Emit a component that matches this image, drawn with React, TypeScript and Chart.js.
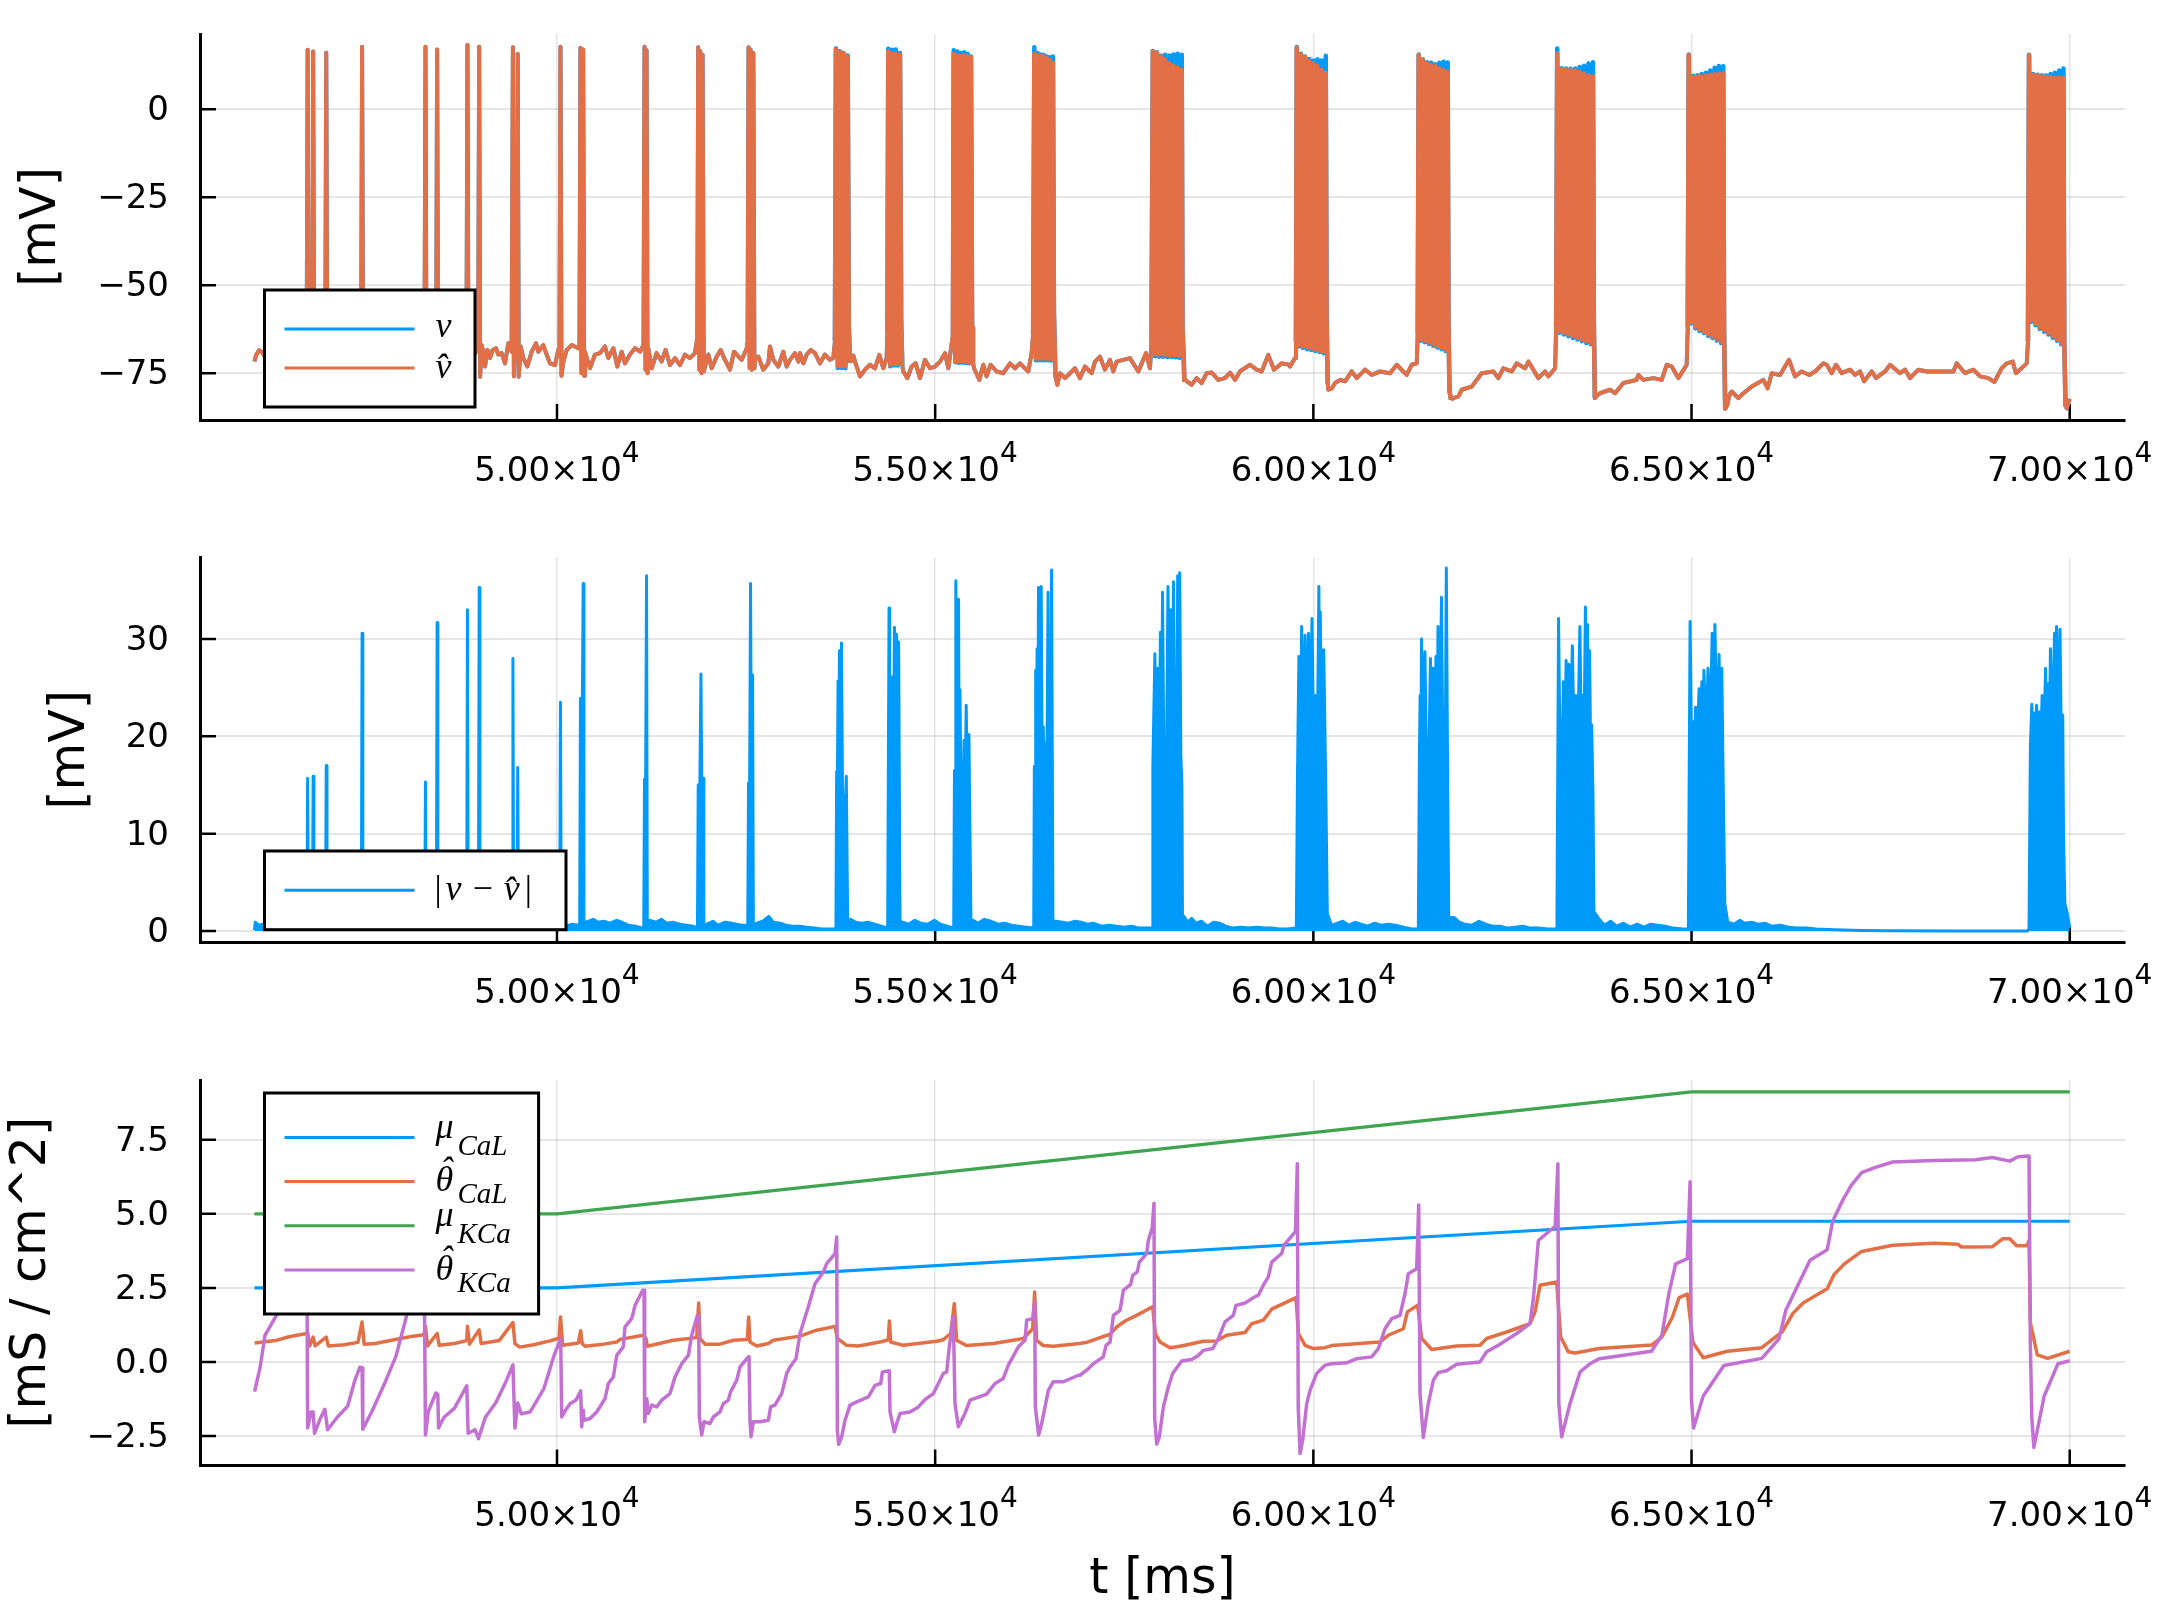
import { useEffect, useRef } from "react"
import { Chart, registerables } from "chart.js"

Chart.register(...registerables)

const BLUE = "#009AFA"
const ORANGE = "#E36F47"
const GREEN = "#3EA44E"
const PURPLE = "#C271D2"

const xMin = 45280
const xMax = 70731
const xTicks = [50000, 55000, 60000, 65000, 70000]
const xTickLabels = ["5.00", "5.50", "6.00", "6.50", "7.00"]

// top panel: stretches that v and v-hat share (rest, single spikes, short doublets)
const restT = [
  46000, 46020, 46060, 46100, 46140, 46690, 46703, 46716, 46763, 46776, 46789, 46936, 46949, 46962, 47410, 47423,
  47436, 48248, 48261, 48274, 48402, 48415, 48428, 48803, 48816, 48829, 48958, 48971, 48984, 49004, 49026, 49048,
  49079, 49114, 49149, 49193, 49224, 49268, 49312, 49356, 49400, 49417, 49430, 49445, 49468, 49481, 49494, 49520,
  49555, 49608, 49665, 49722, 49753, 49819, 49863, 49907, 49973, 50017, 50033, 50046, 50059, 50084, 50128, 50194,
  50282, 50297, 50310, 50323, 50333, 50346, 50359, 50370, 50436, 50502, 50568, 50634, 50678, 50745, 50798, 50855,
  50899, 50965, 51031, 51097, 51144, 51157, 51170, 51178, 51184, 51197, 51207, 51252, 51317, 51383, 51436, 51494,
  51560, 51626, 51692, 51758, 51824, 51855, 51867, 51882, 51895, 51910, 51925, 51940, 52001, 52045, 52111, 52164,
  52221, 52287, 52340, 52441, 52508, 52520, 52532, 52547, 52560, 52575, 52596, 52610, 52618, 52662, 52728, 52794,
  52816, 52860, 52926, 52992, 53036, 53080, 53146, 53191, 53213, 53257, 53301, 53354, 53411, 53477, 53543, 53609,
  53653, 53896, 53918, 53940, 54006, 54072, 54138, 54204, 54261, 54314, 54358, 54579, 54632, 54689, 54742, 54799,
  54865, 54931, 54997, 55064, 55130, 55174, 55513, 55584, 55636, 55680, 55733, 55813, 55901, 55989, 56055, 56121,
  56231, 56275, 56615, 56650, 56716, 56782, 56848, 56914, 56980, 57069, 57113, 57179, 57245, 57311, 57355, 57399,
  57487, 57575, 57686, 57787, 57840, 58303, 58391, 58457, 58523, 58589, 58655, 58743, 58832, 58898, 58964, 59030,
  59162, 59250, 59316, 59404, 59479, 59581, 59682, 59692, 59758, 60199, 60243, 60287, 60353, 60419, 60507, 60573,
  60684, 60772, 60882, 61014, 61102, 61234, 61300, 61367, 61851, 61918, 61962, 62094, 62226, 62380, 62446, 62512,
  62623, 62689, 62799, 62843, 62975, 63063, 63107, 63196, 63790, 63923, 63989, 64099, 64275, 64297, 64363, 64496,
  64606, 64672, 64738, 64826, 64936, 65531, 65619, 65686, 65796, 65950, 66007, 66060, 66170, 66289, 66368, 66457,
  66558, 66633, 66743, 66788, 66854, 66911, 66986, 67096, 67162, 67228, 67281, 67382, 67440, 67559, 67625, 67757,
  67823, 67889, 67999, 68110, 68242, 68352, 68462, 68506, 68617, 68727, 68815, 68925, 69004, 69101, 69167, 69246,
  69290, 69432, 69963, 69980, 70000,
]
const restV = [
  -71.7, -70, -68.5, -69, -70.5, -70, 16.9, -72, -70, 16.4, -72, -70, 16.1, -72, -70, 17.8,
  -72, -70, 17.8, -72, -70, 17, -72, -70, 18.3, -72, -68, 17.8, -76, -67, -68.9, -73.1,
  -68.4, -70.7, -68.4, -67.9, -69.7, -69.3, -72.2, -66.5, -68.9, 17.6, -75.9, -67.5, -68, 15.7, -76, -67.4,
  -70.7, -73.1, -68.9, -66.5, -68.9, -67, -69.7, -72.2, -72.7, -68.4, -68, 17.8, -75.7, -71.7, -68.4, -67,
  -67.9, -67.5, 17.5, -75, -70, 17, -75.7, -68.9, -73.6, -69.7, -69.3, -67.4, -70.7, -67.9, -73.1, -68.9,
  -72.2, -69.7, -67.9, -68.9, -67, 17.8, -74, -70, 16.8, -75, -67.9, -73.6, -69.3, -71.7, -68.4, -72.7,
  -70.7, -72.7, -69.7, -70.7, -69.3, -65, 17.6, -74, 16.5, -75, 15.5, -74.5, -69.7, -73.6, -70.3, -68.4,
  -71.2, -74, -68.9, -71.2, -68, -66, 17.6, -73.5, 17, -74, 16, -73.6, -71.2, -70.3, -74, -72.2,
  -67.4, -71.2, -73.1, -68.9, -73.1, -71.2, -69.3, -71.7, -69.3, -72.2, -69.7, -68.4, -69.3, -72.2, -69.7, -71.2,
  -70.7, -71, -70, -71.7, -75.9, -74, -72.6, -73.6, -69.8, -73.6, -70.7, -74.5, -76.4, -73.1, -72.2, -76.4,
  -71.2, -73.6, -73.1, -71.7, -69.3, -73.6, -73.6, -76.9, -72.6, -75.9, -72.6, -74.5, -75, -72.2, -73.6, -72.2,
  -74.5, -69.3, -78.3, -75, -76.4, -75, -73.6, -76.4, -73.1, -75, -71.7, -70.3, -74, -71.2, -74.5, -71.7,
  -71.2, -70.7, -74.5, -69.3, -73.6, -76.9, -78.3, -76.4, -77.8, -75, -74.8, -76.9, -76.4, -74.8, -76.9, -74.5,
  -72.6, -74, -74.5, -69.8, -74, -72.2, -72.6, -73.1, -70.7, -79.7, -79.3, -77.8, -76.9, -77.3, -74.5, -76.4,
  -74, -75.5, -74.5, -75, -72.6, -75.5, -72.6, -72.2, -82.1, -81.6, -79.7, -78.8, -75, -74.5, -76.4, -73.6,
  -74.5, -72.2, -73.6, -71.7, -76.4, -74.5, -75.9, -73.6, -80.7, -79.7, -80.7, -77.8, -76.9, -75.5, -76.9, -76.4,
  -76.9, -72.6, -73.1, -76.4, -72.6, -80.2, -82.1, -80.7, -78.8, -76.9, -79.3, -75, -75.5, -71.2, -75.9, -74.5,
  -75.5, -74.5, -72.2, -72.6, -75, -72.6, -75, -74, -75.5, -74.5, -77.3, -74.5, -76.4, -74.5, -72.6, -75,
  -74, -76.4, -74, -74.5, -74.5, -74.5, -74.5, -72.2, -75, -74, -75.9, -76.4, -77.5, -73.6, -72.2, -71.7,
  -75, -72.2, -85, -83.5, -82.3,
]

// top panel: the long bursts, where the two traces part at the tips
const burstT = [
  53675, 53688, 53713, 53738, 53763, 53788, 53813, 53843, 53858, 53875,
  54368, 54380, 54405, 54430, 54455, 54480, 54505, 54535, 54550, 54565,
  55235, 55245, 55268, 55291, 55314, 55337, 55360, 55383, 55406, 55429, 55452, 55473, 55488, 55500,
  56295, 56311, 56331, 56352, 56372, 56393, 56413, 56434, 56454, 56475, 56495, 56516, 56536, 56557, 56570, 56590,
  57860, 57878, 57905, 57932, 57960, 57987, 58014, 58041, 58069, 58096, 58123, 58150, 58178, 58205, 58232, 58260, 58270, 58285, 58295,
  59770, 59781, 59808, 59836, 59863, 59890, 59918, 59945, 59972, 60000, 60027, 60054, 60082, 60109, 60136, 60164, 60175, 60190,
  61380, 61393, 61420, 61448, 61475, 61503, 61530, 61557, 61585, 61612, 61639, 61667, 61694, 61721, 61749, 61776, 61786, 61800, 61820,
  63210, 63224, 63254, 63283, 63313, 63342, 63372, 63401, 63431, 63461, 63490, 63520, 63549, 63579, 63608, 63638, 63667, 63697, 63708, 63722, 63745,
  64950, 64963, 64992, 65020, 65049, 65077, 65106, 65134, 65163, 65191, 65220, 65248, 65277, 65305, 65334, 65362, 65391, 65419, 65430, 65445, 65470, 65500,
  69448, 69462, 69490, 69519, 69547, 69576, 69604, 69633, 69661, 69689, 69718, 69746, 69775, 69803, 69831, 69860, 69888, 69917, 69928, 69945,
]
const burstHat = [
  -66, 16.9, -73, 16.2, -73, 15.8, -73, 15, -62, -72,
  -64, 16.5, -72.6, 15.8, -72.4, 15.8, -72.4, 15.6, -60, -73,
  -64, 15.8, -71.5, 15.3, -71.6, 15.2, -71.7, 15.3, -71.8, 15, -72, 14.8, -62, -72,
  -64, 15.8, -70.8, 15.4, -70.8, 15.2, -70.8, 15, -70.8, 14.5, -70.8, 14, -70.9, 13.2, -58, -76,
  -66, 16.4, -69.6, 16, -69.7, 15, -69.7, 14.2, -69.8, 13.1, -69.8, 12.4, -69.9, 11.8, -70, 11.2, -62, -70, -77.5,
  -66, 17.5, -67, 15.6, -67.4, 14.8, -67.8, 13.8, -68, 13, -68.3, 12.4, -68.6, 11.2, -68.9, 10.4, -60, -78,
  -64, 15.4, -65.4, 14, -65.8, 13, -66.3, 12.6, -66.8, 12.2, -67.3, 11.6, -67.8, 11.1, -68.3, 10.7, -60, -80, -82.5,
  -62, 15.8, -63, 11.5, -63.5, 11.4, -64, 11.2, -64.5, 11, -65, 10.6, -65.5, 10.1, -66, 9.6, -66.5, 9.3, -60, -82, -81.5,
  -62, 15.4, -60.5, 9.2, -61.8, 9.3, -62.6, 9.4, -63.2, 9.6, -64, 9.8, -64.6, 10, -65.3, 10.1, -66, 10.2, -62, -85, -84, -81,
  -66, 15.4, -60, 9.8, -61, 9.6, -62, 9.4, -62.8, 9.2, -63.6, 9.2, -64.5, 9, -65.4, 8.9, -66.4, 8.8, -66, -84.5,
]
const burstV = [
  -66, 17.3, -73.5, 16.5, -73.5, 16, -73.6, 15.3, -62, -72,
  -64, 17.2, -73, 16.9, -72.8, 17, -72.8, 16, -60, -73,
  -64, 16.8, -71.9, 16.4, -72, 16, -72, 16.2, -72.1, 15.8, -72.2, 15, -62, -72,
  -64, 17.6, -71.3, 16, -71.3, 15.6, -71.3, 15.4, -71.3, 15, -71.3, 14.8, -71.4, 15, -58, -76,
  -66, 16.6, -70.2, 16.2, -70.3, 15.2, -70.3, 15.5, -70.4, 15.3, -70.4, 15.6, -70.5, 15.8, -70.6, 15.5, -62, -70, -77.5,
  -66, 17.7, -67.4, 15.8, -67.8, 15, -68.2, 14.3, -68.4, 13.9, -68.7, 14.2, -69, 13.9, -69.3, 15.2, -60, -78,
  -64, 15.6, -65.8, 14.2, -66.2, 13.4, -66.7, 13.2, -67.2, 12.8, -67.7, 13.2, -68.2, 13.5, -68.7, 13.3, -60, -80, -82.5,
  -62, 17.3, -63.5, 11.7, -64, 11.6, -64.5, 11.5, -65, 11.6, -65.4, 12, -65.9, 12.4, -66.4, 13, -66.8, 13.4, -60, -82, -81.5,
  -62, 15.6, -60.9, 9.5, -62.2, 9.7, -63, 10, -63.6, 10.4, -64.4, 11, -65, 11.8, -65.7, 12.3, -66.4, 12.2, -62, -85, -84, -81,
  -66, 15.5, -60.4, 10, -61.4, 9.8, -62.4, 9.7, -63.2, 9.6, -64, 10, -64.9, 10.4, -65.8, 11, -66.8, 11.6, -66, -84.5,
]

// middle panel: |v - v-hat|
const errT = [
  46000, 46010, 46060, 46110, 46693, 46703, 46713, 46766, 46776, 46786, 46939, 46949, 46959, 47413, 47423, 47433,
  48251, 48261, 48271, 48405, 48415, 48425, 48806, 48816, 48826, 48961, 48971, 48981, 49407, 49417, 49427, 49471,
  49481, 49491, 50036, 50046, 50056, 50120, 50200, 50290, 50300, 50310, 50328, 50346, 50356, 50380, 50480, 50540,
  50620, 50700, 50790, 50860, 50940, 51040, 51130, 51147, 51157, 51170, 51184, 51194, 51230, 51310, 51380, 51450,
  51530, 51620, 51710, 51800, 51857, 51867, 51885, 51903, 51917, 51931, 51941, 51980, 52060, 52130, 52220, 52310,
  52440, 52500, 52522, 52532, 52545, 52559, 52572, 52586, 52596, 52640, 52720, 52800, 52860, 52950, 53030, 53110,
  53210, 53300, 53400, 53500, 53600, 53688, 53697, 53706, 53716, 53725, 53734, 53747, 53761, 53775, 53788, 53806,
  53825, 53843, 53880, 53950, 54030, 54110, 54200, 54290, 54372, 54390, 54399, 54408, 54421, 54435, 54448, 54462,
  54476, 54490, 54503, 54517, 54535, 54570, 54650, 54730, 54810, 54900, 54990, 55070, 55160, 55245, 55255, 55264,
  55273, 55291, 55309, 55318, 55328, 55341, 55355, 55368, 55382, 55396, 55410, 55428, 55446, 55473, 55500, 55570,
  55650, 55740, 55830, 55920, 56010, 56100, 56200, 56303, 56311, 56320, 56329, 56338, 56347, 56356, 56366, 56384,
  56402, 56416, 56429, 56443, 56457, 56475, 56493, 56506, 56520, 56530, 56539, 56557, 56600, 56680, 56760, 56850,
  56930, 57010, 57090, 57200, 57300, 57400, 57500, 57600, 57700, 57800, 57870, 57878, 57905, 57923, 57942, 57960,
  57978, 57992, 58006, 58024, 58042, 58060, 58078, 58096, 58115, 58133, 58151, 58170, 58188, 58197, 58206, 58220,
  58233, 58248, 58262, 58270, 58290, 58340, 58390, 58450, 58520, 58600, 58680, 58760, 58840, 58940, 59040, 59140,
  59250, 59350, 59450, 59550, 59650, 59775, 59790, 59809, 59827, 59845, 59868, 59891, 59913, 59936, 59959, 59982,
  60005, 60027, 60050, 60073, 60082, 60091, 60114, 60137, 60164, 60185, 60240, 60320, 60390, 60470, 60550, 60630,
  60720, 60810, 60900, 60990, 61090, 61190, 61300, 61388, 61402, 61412, 61421, 61430, 61452, 61475, 61493, 61512,
  61530, 61548, 61567, 61585, 61603, 61621, 61635, 61648, 61671, 61694, 61712, 61730, 61744, 61758, 61776, 61790,
  61860, 61930, 62000, 62100, 62190, 62280, 62370, 62470, 62570, 62670, 62770, 62870, 62970, 63100, 63220, 63232,
  63242, 63260, 63278, 63292, 63306, 63324, 63342, 63360, 63379, 63401, 63424, 63447, 63470, 63497, 63524, 63542,
  63561, 63579, 63597, 63611, 63625, 63638, 63652, 63665, 63679, 63697, 63710, 63780, 63850, 63930, 64010, 64100,
  64190, 64280, 64370, 64460, 64550, 64650, 64760, 64880, 64958, 64970, 64981, 65000, 65018, 65036, 65054, 65077,
  65100, 65118, 65136, 65150, 65164, 65191, 65218, 65245, 65273, 65291, 65309, 65336, 65364, 65382, 65400, 65419,
  65440, 65480, 65560, 65640, 65700, 65790, 65880, 65970, 66060, 66170, 66290, 66400, 66520, 66650, 66800, 67000,
  67250, 67600, 68500, 69440, 69462, 69480, 69499, 69512, 69526, 69544, 69562, 69580, 69599, 69617, 69635, 69658,
  69681, 69699, 69717, 69731, 69745, 69772, 69799, 69812, 69826, 69849, 69872, 69890, 69908, 69918, 69936, 69963,
  70000,
]
const err = [
  0.1, 0.9, 0.6, 0.7, 0.4, 15.7, 0.4, 0.4, 15.9, 0.4, 0.4, 17, 0.4, 0.4, 30.6, 0.4,
  0.4, 15.3, 0.4, 0.4, 31.7, 0.4, 0.4, 33, 0.4, 0.4, 35.3, 0.4, 0.4, 28, 0.4, 0.4,
  16.8, 0.4, 0.4, 23.5, 0.4, 0.5, 0.7, 0.6, 0.5, 23.9, 15, 35.7, 0.7, 0.9, 1.2, 0.9,
  1, 0.8, 1.1, 0.9, 0.6, 0.5, 0.3, 0.3, 15.6, 12, 36.5, 0.6, 1.1, 0.9, 1.2, 0.8,
  0.9, 0.7, 0.6, 0.5, 0.3, 15, 12, 26.4, 12, 15.7, 0.5, 0.7, 1, 0.6, 0.9, 0.8,
  0.6, 0.6, 0.4, 15.2, 12, 35.7, 12, 26.3, 0.5, 0.8, 1, 1.5, 0.9, 0.8, 0.6, 0.5,
  0.5, 0.4, 0.3, 0.2, 0.2, 0.2, 16.4, 14, 25.7, 15, 28.8, 15, 29.6, 14, 13.9, 12,
  15.9, 1, 1.2, 0.9, 0.8, 0.9, 0.7, 0.5, 0.3, 33.2, 17, 19, 17, 26.1, 17, 31.2,
  16, 30.5, 15, 29.7, 1, 0.9, 0.7, 1.1, 0.8, 0.7, 1.1, 0.7, 0.5, 0.3, 16.5, 14,
  36, 15, 34.1, 16, 24.8, 14, 13.3, 13, 19.6, 15, 23.2, 14, 20.2, 1, 1.1, 0.8,
  1.2, 1, 0.7, 0.8, 0.6, 0.5, 0.4, 0.3, 16.9, 15, 26.8, 16, 29, 16, 35.3, 17,
  35.4, 15, 21, 15, 19.3, 15, 34.8, 15, 16.9, 14, 37.1, 1, 1, 0.9, 0.8, 1,
  0.9, 0.7, 0.8, 0.5, 0.6, 0.5, 0.4, 0.5, 0.3, 0.3, 0.3, 17, 28.5, 17, 27, 18,
  30.7, 19, 34.8, 17, 17.6, 19, 35.4, 20, 33, 20, 35.9, 18, 23.6, 20, 36.5, 22,
  36.8, 18, 15, 1, 1.5, 0.9, 1.3, 0.8, 1, 0.5, 0.9, 0.8, 0.5, 0.3, 0.4, 0.3,
  0.4, 0.3, 0.3, 0.2, 0.2, 0.3, 16, 28.2, 17, 31.3, 18, 30.4, 18, 30.6, 19, 32.1,
  18, 24.2, 17, 35.4, 19, 32.8, 18, 28.9, 15, 1.8, 0.6, 0.8, 1, 0.6, 0.9, 0.7,
  0.5, 0.8, 0.6, 0.7, 0.6, 0.4, 0.2, 0.2, 18, 24.2, 18, 30, 19, 28.7, 19, 19.3,
  19, 28, 19, 27, 19, 28.2, 19, 31.3, 19, 34.3, 18, 19.3, 18, 37.3, 15, 1.4,
  1.4, 0.9, 0.7, 0.6, 1, 0.7, 0.5, 0.5, 0.3, 0.4, 0.5, 0.3, 0.3, 0.2, 0.2, 18,
  32.1, 19, 21.7, 19, 25.6, 19, 27.8, 20, 27.4, 20, 29.3, 20, 24.2, 20, 31.3, 20,
  24.2, 20, 33.3, 20, 31.5, 20, 28.8, 19, 21.2, 14, 2, 1.2, 0.6, 1, 0.5, 0.8,
  0.4, 0.7, 0.4, 0.7, 0.6, 0.5, 0.3, 0.2, 0.2, 17, 31.8, 19, 21.5, 19, 23, 20,
  24.9, 20, 25.6, 20, 26.8, 20, 27, 20, 30.6, 20, 31.5, 20, 28.4, 20, 27, 15,
  2.8, 0.9, 0.7, 1.1, 0.8, 0.9, 0.7, 0.8, 0.5, 0.6, 0.4, 0.3, 0.3, 0.2, 0.15, 0.1,
  0.05, 0.02, 0, 0, 0.2, 19, 23.3, 19, 22.4, 19, 23.2, 19, 22.5, 19, 24.2, 20,
  27, 20, 25.4, 20, 29, 20, 30.6, 20, 31.3, 20, 31, 19, 22.2, 10, 2.8, 2,
  0.3,
]

// bottom panel
const muT = [46000, 50000, 65000, 70000]
const muCaL = [2.5, 2.5, 4.75, 4.75]
const muKCa = [5, 5, 9.12, 9.12]

const thetaCaLT = [
  46002, 46275, 46457, 46694, 46703, 46731, 46776, 46803, 46949, 46976, 47186, 47368, 47423, 47450, 47596, 47914,
  48097, 48242, 48261, 48288, 48415, 48443, 48643, 48807, 48816, 48843, 48971, 48998, 49235, 49417, 49444, 49508,
  49690, 49918, 50028, 50046, 50075, 50282, 50313, 50332, 50370, 50613, 50789, 50833, 51142, 51177, 51195, 51538,
  51847, 51873, 51891, 51957, 52155, 52332, 52517, 52534, 52552, 52640, 52794, 52860, 53213, 53433, 53676, 53707,
  53830, 53984, 54271, 54381, 54394, 54412, 54579, 55020, 55108, 55205, 55253, 55284, 55416, 55769, 56166, 56289,
  56315, 56342, 56430, 56562, 56906, 57003, 57201, 57312, 57400, 57510, 57664, 57876, 57911, 57973, 58105, 58237,
  58546, 58722, 58854, 59096, 59184, 59339, 59449, 59603, 59771, 59802, 59890, 60000, 60154, 60242, 60881, 60991,
  61190, 61243, 61379, 61432, 61565, 61895, 62203, 62291, 62556, 62864, 62931, 62997, 63217, 63270, 63371, 63460,
  63781, 64471, 64608, 64745, 64836, 64945, 65018, 65155, 65473, 65929, 66202, 66338, 66475, 66794, 66885, 67021,
  67249, 67659, 68205, 68524, 68570, 68979, 69116, 69207, 69298, 69435, 69462, 69480, 69571, 69708, 70000,
]
const thetaCaL = [
  0.64, 0.72, 0.85, 0.96, 1, 0.54, 0.84, 0.54, 0.84, 0.54, 0.58, 0.66, 1.35, 0.6, 0.62, 0.78,
  0.87, 0.92, 1.2, 0.54, 0.96, 0.56, 0.62, 0.72, 1.2, 0.6, 1.08, 0.62, 0.72, 1.33, 0.62, 0.5,
  0.58, 0.72, 0.8, 1.52, 0.56, 0.64, 1.05, 0.62, 0.53, 0.6, 0.67, 0.76, 0.9, 0.79, 0.53, 0.73,
  0.82, 1.99, 0.79, 0.6, 0.6, 0.73, 0.76, 1.52, 0.67, 0.54, 0.62, 0.73, 0.87, 1.07, 1.2, 0.79,
  0.56, 0.54, 0.67, 0.75, 1.38, 0.67, 0.56, 0.7, 0.75, 0.96, 1.97, 0.73, 0.55, 0.62, 0.79, 1.12,
  2.36, 0.73, 0.55, 0.53, 0.62, 0.66, 0.84, 0.93, 1.18, 1.38, 1.57, 1.86, 0.96, 0.67, 0.48, 0.53,
  0.7, 0.71, 0.9, 0.99, 1.29, 1.41, 1.78, 1.97, 2.17, 0.96, 0.56, 0.45, 0.48, 0.55, 0.67, 0.9,
  1.12, 1.69, 1.91, 0.79, 0.42, 0.54, 0.56, 0.79, 1.01, 1.29, 1.69, 2.59, 2.7, 0.84, 0.34, 0.3,
  0.45, 0.57, 0.84, 1.5, 2.17, 2.29, 0.66, 0.14, 0.36, 0.48, 1.02, 1.63, 1.99, 2.47, 2.95, 3.31,
  3.73, 3.94, 4.01, 3.97, 3.88, 3.89, 4.16, 4.16, 3.92, 3.92, 4.1, 1.32, 0.24, 0.12, 0.36,
]

const thetaKCaT = [
  46002, 46075, 46139, 46275, 46503, 46694, 46703, 46749, 46776, 46794, 46867, 46931, 46967, 47095, 47232, 47323,
  47395, 47423, 47432, 47550, 47732, 47869, 48006, 48097, 48242, 48261, 48297, 48397, 48424, 48434, 48506, 48643,
  48807, 48825, 48916, 48962, 49053, 49189, 49326, 49417, 49444, 49481, 49526, 49645, 49827, 49964, 50049, 50062,
  50128, 50172, 50252, 50313, 50326, 50348, 50357, 50437, 50525, 50635, 50679, 50745, 50789, 50877, 50899, 50988,
  51032, 51133, 51151, 51159, 51186, 51208, 51252, 51318, 51384, 51494, 51560, 51649, 51737, 51781, 51856, 51873,
  51882, 51913, 51944, 52023, 52067, 52155, 52199, 52266, 52296, 52376, 52420, 52530, 52539, 52552, 52565, 52596,
  52684, 52794, 52825, 52882, 52971, 53037, 53081, 53160, 53213, 53323, 53411, 53522, 53566, 53676, 53698, 53707,
  53724, 53764, 53808, 53874, 53962, 54116, 54205, 54280, 54302, 54394, 54403, 54460, 54491, 54535, 54667, 54778,
  54866, 54976, 55108, 55152, 55187, 55240, 55262, 55306, 55394, 55461, 55681, 55791, 55901, 55967, 56100, 56188,
  56210, 56289, 56316, 56324, 56368, 56408, 56496, 56562, 56695, 56893, 56915, 57003, 57091, 57223, 57259, 57312,
  57356, 57444, 57488, 57585, 57611, 57673, 57699, 57796, 57818, 57869, 57893, 57902, 57929, 57964, 58017, 58083,
  58140, 58259, 58391, 58479, 58546, 58669, 58744, 58832, 58942, 58977, 59096, 59207, 59273, 59339, 59405, 59449,
  59581, 59612, 59763, 59788, 59800, 59824, 59859, 59912, 59956, 60044, 60154, 60242, 60441, 60573, 60771, 60859,
  60947, 61036, 61146, 61212, 61256, 61366, 61393, 61410, 61454, 61520, 61586, 61653, 61763, 61895, 62203, 62291,
  62446, 62688, 62864, 62909, 62953, 62975, 63197, 63233, 63245, 63283, 63393, 63526, 63658, 63781, 64471, 64608,
  64699, 64790, 64945, 64981, 64999, 65027, 65155, 65428, 65929, 66156, 66247, 66293, 66429, 66566, 66794, 66867,
  67003, 67112, 67249, 67431, 67659, 68205, 68752, 68979, 69207, 69316, 69462, 69480, 69499, 69526, 69663, 69845,
  70000,
]
const thetaKCa = [
  -1, -0.18, 0.9, 1.5, 2.6, 3.2, -2.23, -1.69, -1.69, -2.41, -1.93, -1.6, -2.29, -1.87, -1.5, -0.66,
  -0.18, -0.2, -2.27, -1.69, -0.66, 0.18, 1.5, 2.8, 4, -2.47, -1.69, -1.05, -1.1, -2.23, -1.87, -1.57,
  -0.81, -2.41, -2.29, -2.59, -1.87, -1.39, -0.66, -0.1, -2.23, -1.39, -1.75, -1.69, -0.9, 0.24, 0.79, -1.86,
  -1.57, -1.41, -1.29, -0.98, -2.19, -1.63, -1.97, -1.91, -1.69, -1.24, -0.73, -0.51, 0.22, 0.51, 1.18, 1.46,
  1.91, 2.42, 2.42, -2.02, -1.24, -1.74, -1.46, -1.52, -1.29, -1.07, -0.51, -0.06, 0.22, 0.9, 1.57, 1.57,
  -1.86, -2.47, -2.02, -2.08, -1.86, -1.69, -1.41, -1.29, -1.01, -0.62, -0.17, 0.17, 0.17, -1.97, -2.53, -2.02,
  -2.02, -1.97, -1.52, -1.46, -1.07, -0.39, -0.17, 0.11, 0.96, 1.86, 2.64, 3.04, 3.32, 3.66, 4.22, -2.31,
  -2.78, -2.53, -1.97, -1.46, -1.35, -1.18, -0.79, -0.73, -0.34, -0.3, -1.69, -2.36, -2.08, -1.74, -1.69, -1.52,
  -1.27, -1.07, -0.39, -0.34, 0.51, 1.52, -1.41, -2.19, -1.74, -1.29, -1.09, -0.73, -0.56, -0.11, 0.51, 0.73,
  1.41, 1.46, 2.02, -1.52, -2.47, -2.08, -0.96, -0.67, -0.67, -0.45, -0.45, -0.28, -0.06, 0.17, 0.56, 0.67,
  1.57, 1.74, 2.42, 2.62, 2.92, 3.04, 3.37, 3.66, 4.1, 4.52, 5.36, -1.91, -2.78, -2.53, -1.52, -0.84,
  -0.39, 0.03, 0.08, 0.22, 0.39, 0.45, 0.79, 1.35, 1.57, 1.91, 1.99, 2.17, 2.25, 2.59, 2.87, 3.37,
  3.66, 3.94, 4.4, 6.69, -1.52, -3.09, -2.64, -1.41, -0.96, -0.39, -0.11, -0.06, -0.03, 0.11, 0.17, 0.45,
  1.12, 1.46, 1.57, 2.31, 2.98, 3.15, 5.3, -1.07, -2.55, -1.41, -0.62, -0.36, -0.3, -0.08, 0, 0.34,
  0.56, 0.96, 1.29, 2.14, 3.43, 4.1, 4.58, 6.69, -1.4, -2.53, -1.41, -0.34, -0.06, 0.11, 0.36, 0.9,
  2.29, 3.31, 3.49, 6.08, -1.27, -2.23, -1.15, -0.12, 0.12, 0.78, 1.75, 1.99, 2.71, 3.43, 3.79, 4.76,
  5.48, 5.96, 6.39, 6.57, 6.75, 6.8, 6.83, 6.9, 6.78, 6.93, 6.95, 0.54, -1.88, -2.89, -1.15, -0.06,
  0.04,
]

const pts = (xs: number[], ys: number[]) => xs.map((x, i) => ({ x, y: ys[i] }))
const merged = (a: { x: number; y: number }[], b: { x: number; y: number }[]) => [...a, ...b].sort((p, q) => p.x - q.x)

const FONT = "'DejaVu Sans'"
const MATH = "'Liberation Serif'"

interface LegendRow {
  color: string
  text: string
  hatDy?: number
  sub?: string
  lineY: number
  textDx?: number
  textDy: number
  subDy?: number
}

interface LegendBox {
  left: number
  right: number
  top: number
  bottom: number
  rows: LegendRow[]
}

// inward tick marks, x labels with a raised exponent and the boxed legend (y values are canvas pixels)
function decor(legend: LegendBox) {
  return {
    id: "decor",
    beforeDatasetsDraw(chart: Chart) {
      const { ctx } = chart
      const x = chart.scales.x
      const y = chart.scales.y
      ctx.save()
      ctx.strokeStyle = "#000"
      ctx.lineWidth = 2.5
      ctx.beginPath()
      x.ticks.forEach((t) => {
        const px = x.getPixelForValue(t.value)
        ctx.moveTo(px, x.top)
        ctx.lineTo(px, x.top - 16)
      })
      y.ticks.forEach((t) => {
        const py = y.getPixelForValue(t.value)
        ctx.moveTo(y.right, py)
        ctx.lineTo(y.right + 16, py)
      })
      ctx.stroke()

      ctx.fillStyle = "#000"
      ctx.textBaseline = "alphabetic"
      ctx.textAlign = "left"
      xTicks.forEach((value, i) => {
        const text = xTickLabels[i] + "×10"
        ctx.font = `34px ${FONT}`
        const w = ctx.measureText(text).width
        ctx.font = `28px ${FONT}`
        const e = ctx.measureText("4").width
        const left = x.getPixelForValue(value) - (w + e) / 2
        ctx.font = `34px ${FONT}`
        ctx.fillText(text, left, x.top + 61)
        ctx.font = `28px ${FONT}`
        ctx.fillText("4", left + w, x.top + 42)
      })
      ctx.restore()
    },
    afterDatasetsDraw(chart: Chart) {
      const { ctx } = chart
      ctx.save()
      ctx.fillStyle = "#fff"
      ctx.strokeStyle = "#000"
      ctx.lineWidth = 3
      const w = legend.right - legend.left
      const h = legend.bottom - legend.top
      ctx.fillRect(legend.left, legend.top, w, h)
      ctx.strokeRect(legend.left, legend.top, w, h)
      legend.rows.forEach((row) => {
        ctx.strokeStyle = row.color
        ctx.lineWidth = 3
        ctx.beginPath()
        ctx.moveTo(legend.left + 20, row.lineY)
        ctx.lineTo(legend.left + 150, row.lineY)
        ctx.stroke()
        ctx.fillStyle = "#000"
        ctx.textAlign = "left"
        ctx.textBaseline = "alphabetic"
        ctx.font = `italic 36px ${MATH}`
        const tx = legend.left + 171 + (row.textDx ?? 0)
        const ty = row.lineY + row.textDy
        ctx.fillText(row.text, tx, ty)
        if (row.hatDy !== undefined) {
          const base = ctx.measureText(row.text).width
          const hat = ctx.measureText("ˆ").width
          ctx.fillText("ˆ", tx + (base - hat) / 2 + 2, ty - row.hatDy)
        }
        if (row.sub) {
          ctx.font = `italic 29px ${MATH}`
          ctx.fillText(row.sub, legend.left + 193, row.lineY + (row.subDy ?? 0))
        }
      })
      ctx.restore()
    },
  }
}

function xAxis(height: number, title?: string) {
  return {
    type: "linear" as const,
    min: xMin,
    max: xMax,
    afterBuildTicks: (axis: any) => {
      axis.ticks = xTicks.map((value) => ({ value }))
    },
    afterFit: (axis: any) => {
      axis.height = height
    },
    ticks: { display: false },
    grid: { color: "rgba(0,0,0,0.1)", lineWidth: 1.5, drawTicks: false },
    border: { display: true, color: "#000", width: 3 },
    title: {
      display: !!title,
      text: title,
      color: "#000",
      font: { family: "DejaVu Sans", size: 49 },
      padding: { top: 0, bottom: 10 },
    },
  }
}

function yAxis(min: number, max: number, values: number[], labels: string[], title: string, titleInset: number) {
  return {
    type: "linear" as const,
    min,
    max,
    afterBuildTicks: (axis: any) => {
      axis.ticks = values.map((value) => ({ value }))
    },
    afterFit: (axis: any) => {
      axis.width = 200
      // keep half-label overflow from pushing the plot area down
      axis.paddingTop = 0
      axis.paddingBottom = 0
    },
    ticks: {
      color: "#000",
      padding: 31,
      labelOffset: 2,
      autoSkip: false,
      maxRotation: 0,
      font: { family: "DejaVu Sans", size: 34 },
      callback: (_v: any, i: number) => labels[i],
    },
    grid: { color: "rgba(0,0,0,0.1)", lineWidth: 2, drawTicks: false },
    border: { display: true, color: "#000", width: 3 },
    title: {
      display: true,
      text: title,
      color: "#000",
      font: { family: "DejaVu Sans", size: 49 },
      padding: { top: titleInset, bottom: 0 },
    },
  }
}

function line(label: string, color: string, data: { x: number; y: number }[], extra = {}) {
  return {
    label,
    data,
    borderColor: color,
    backgroundColor: color,
    borderWidth: 3,
    pointRadius: 0,
    tension: 0,
    borderJoinStyle: "round" as const,
    ...extra,
  }
}

function Panel({ top, height, plotTop, axisHeight, datasets, y, title, legend }: any) {
  const chartRef = useRef<HTMLCanvasElement>(null)

  useEffect(() => {
    if (!chartRef.current) return
    const chart = new Chart(chartRef.current, {
      type: "line",
      // later series sit on top, as in the reference
      data: { datasets: datasets.map((d: any, i: number) => ({ ...d, order: datasets.length - i })) },
      options: {
        responsive: false,
        animation: false,
        devicePixelRatio: 1,
        layout: { padding: { left: 0, top: plotTop, right: 35, bottom: 0 } },
        scales: { x: xAxis(axisHeight, title), y },
        plugins: { legend: { display: false }, title: { display: false }, tooltip: { enabled: false } },
      },
      plugins: [decor(legend)],
    } as any)
    return () => chart.destroy()
  }, [])

  return (
    <canvas
      ref={chartRef}
      width={2160}
      height={height}
      style={{ position: "absolute", left: 0, top, display: "block" }}
    />
  )
}

const vHatPoints = merged(pts(restT, restV), pts(burstT, burstHat))
const vPoints = merged(pts(restT, restV), pts(burstT, burstV))

// strokes inside a long burst are widened so the spike train reads as a solid band
const burstTimes = new Set(burstT)
const voltageStyle = {
  borderWidth: 4,
  segment: {
    borderWidth: (c: any) => (burstTimes.has(c.p0.parsed.x) && burstTimes.has(c.p1.parsed.x) ? 4.5 : 4),
  },
}

export default function App() {
  return (
    <div style={{ position: "absolute", left: 0, top: 0, width: 2160, height: 1620, background: "#fff" }}>
      <Panel
        top={0}
        height={530}
        plotTop={34}
        axisHeight={110}
        datasets={[line("v", BLUE, vPoints, voltageStyle), line("v̂", ORANGE, vHatPoints, voltageStyle)]}
        y={yAxis(-88.3, 21.4, [-75, -50, -25, 0], ["−75", "−50", "−25", "0"], "[mV]", 13)}
        legend={{
          left: 264.5,
          right: 475,
          top: 290,
          bottom: 407,
          rows: [
            { color: BLUE, text: "v", lineY: 329, textDy: 8 },
            { color: ORANGE, text: "v\u0302", lineY: 368, textDy: 10 },
          ],
        }}
      />
      <Panel
        top={530}
        height={530}
        plotTop={27.3}
        axisHeight={117.7}
        datasets={[line("|v − v̂|", BLUE, pts(errT, err), { fill: { value: 0 } })]}
        y={yAxis(-1.16, 38.4, [0, 10, 20, 30], ["0", "10", "20", "30"], "[mV]", 42)}
        legend={{
          left: 264.5,
          right: 566,
          top: 321,
          bottom: 399.7,
          rows: [{ color: BLUE, text: "|\u200Av − v\u0302\u200A|", lineY: 360.3, textDx: -3, textDy: 10 }],
        }}
      />
      <Panel
        top={1060}
        height={560}
        plotTop={20}
        axisHeight={154.6}
        title="t [ms]"
        datasets={[
          line("μ CaL", BLUE, pts(muT, muCaL), { borderWidth: 3.2 }),
          line("θ̂ CaL", ORANGE, pts(thetaCaLT, thetaCaL), { borderWidth: 3.5 }),
          line("μ KCa", GREEN, pts(muT, muKCa), { borderWidth: 3.2 }),
          line("θ̂ KCa", PURPLE, pts(thetaKCaT, thetaKCa), { borderWidth: 3.5 }),
        ]}
        y={yAxis(-3.495, 9.52, [-2.5, 0, 2.5, 5, 7.5], ["−2.5", "0.0", "2.5", "5.0", "7.5"], "[mS / cm^2]", 3)}
        legend={{
          left: 264.5,
          right: 538.6,
          top: 33,
          bottom: 254,
          rows: [
            { color: BLUE, text: "μ", sub: "CaL", lineY: 77.5, textDy: 0, subDy: 17 },
            { color: ORANGE, text: "θ", hatDy: 9, sub: "CaL", lineY: 121.4, textDy: 10, subDy: 22 },
            { color: GREEN, text: "μ", sub: "KCa", lineY: 165.7, textDy: 0, subDy: 17 },
            { color: PURPLE, text: "θ", hatDy: 9, sub: "KCa", lineY: 210, textDy: 10, subDy: 22 },
          ],
        }}
      />
    </div>
  )
}
